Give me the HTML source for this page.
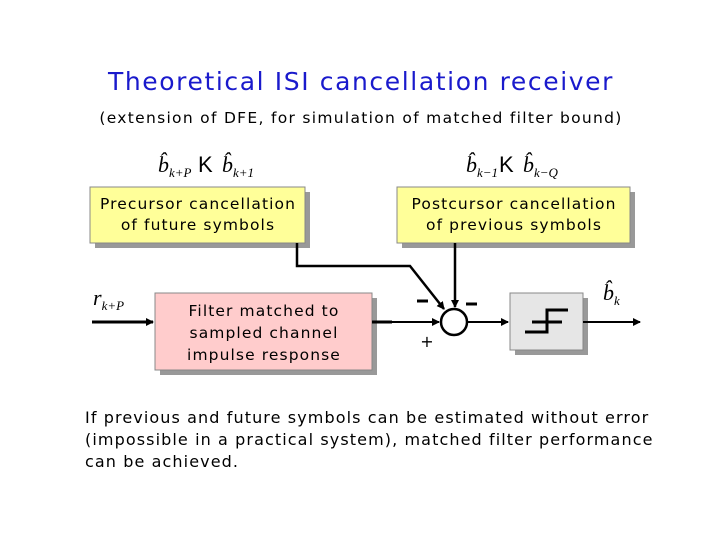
<!DOCTYPE html>
<html><head><style>
body{margin:0;width:720px;height:540px;background:#fff;overflow:hidden;font-family:"DejaVu Sans","Liberation Sans",sans-serif;}
</style></head><body>
<svg width="720" height="540" xmlns="http://www.w3.org/2000/svg">
<defs><marker id="a" markerWidth="8" markerHeight="8" refX="7" refY="4" orient="auto" markerUnits="userSpaceOnUse"><path d="M0,0 L8,4 L0,8z" fill="#000"/></marker></defs>
<text x="361" y="90" text-anchor="middle" font-family="DejaVu Sans" font-size="25" letter-spacing="1.6" fill="#1a1acc">Theoretical ISI cancellation receiver</text>
<text x="361" y="123" text-anchor="middle" font-family="DejaVu Sans" font-size="15.5" letter-spacing="1.3" fill="#000">(extension of DFE, for simulation of matched filter bound)</text>
<g font-family="Liberation Serif" font-style="italic" font-size="22">
<text x="158" y="172">b̂<tspan font-size="13" dy="5">k+P</tspan></text>
<text x="198" y="172" font-style="normal" font-family="Liberation Sans">K</text>
<text x="222" y="172">b̂<tspan font-size="13" dy="5">k+1</tspan></text>
<text x="466" y="172">b̂<tspan font-size="13" dy="5">k−1</tspan></text>
<text x="499" y="172" font-style="normal" font-family="Liberation Sans">K</text>
<text x="523" y="172">b̂<tspan font-size="13" dy="5">k−Q</tspan></text>
<text x="93" y="305">r<tspan font-size="13" dy="5">k+P</tspan></text>
<text x="603" y="300">b̂<tspan font-size="13" dy="5">k</tspan></text>
</g>
<rect x="95" y="192" width="215" height="56" fill="#999"/>
<rect x="90" y="187" width="215" height="56" fill="#ffff99" stroke="#888" stroke-width="1"/>
<text x="198" y="209" text-anchor="middle" font-size="15.5" letter-spacing="1.1">Precursor cancellation</text>
<text x="198" y="230" text-anchor="middle" font-size="15.5" letter-spacing="1.1">of future symbols</text>
<rect x="402" y="192" width="233" height="56" fill="#999"/>
<rect x="397" y="187" width="233" height="56" fill="#ffff99" stroke="#888" stroke-width="1"/>
<text x="514" y="209" text-anchor="middle" font-size="15.5" letter-spacing="1.1">Postcursor cancellation</text>
<text x="514" y="230" text-anchor="middle" font-size="15.5" letter-spacing="1.1">of previous symbols</text>
<rect x="160" y="298" width="217" height="77" fill="#999"/>
<rect x="155" y="293" width="217" height="77" fill="#ffcccc" stroke="#888" stroke-width="1"/>
<text x="264" y="316" text-anchor="middle" font-size="15.5" letter-spacing="1.1">Filter matched to</text>
<text x="264" y="338" text-anchor="middle" font-size="15.5" letter-spacing="1.1">sampled channel</text>
<text x="264" y="360" text-anchor="middle" font-size="15.5" letter-spacing="1.1">impulse response</text>
<rect x="515" y="298" width="73" height="57" fill="#999"/>
<rect x="510" y="293" width="73" height="57" fill="#e6e6e6" stroke="#888" stroke-width="1"/>
<path d="M525,332 H547 V310 H568" stroke="#000" stroke-width="3" fill="none"/>
<path d="M532,322 H562" stroke="#000" stroke-width="3"/>
<g stroke="#000" stroke-width="3" fill="none">
<line x1="92" y1="322" x2="153" y2="322" marker-end="url(#a)"/>
<line x1="372" y1="322" x2="439" y2="322" stroke-width="2" marker-end="url(#a)"/>
<line x1="372" y1="322" x2="392" y2="322"/>
<circle cx="454" cy="322" r="13" stroke-width="2.5"/>
<line x1="467" y1="322" x2="508" y2="322" stroke-width="2" marker-end="url(#a)"/>
<line x1="583" y1="322" x2="640" y2="322" stroke-width="2" marker-end="url(#a)"/>
<path d="M297,243 V266 H410 L444,309" stroke-width="2.5" marker-end="url(#a)"/>
<line x1="455" y1="243" x2="455" y2="307" stroke-width="2.5" marker-end="url(#a)"/>
<line x1="417" y1="301" x2="428" y2="301"/>
<line x1="466" y1="304" x2="477" y2="304"/>
</g>
<text x="427" y="347" text-anchor="middle" font-size="16">+</text>
<g font-size="16" letter-spacing="1.1">
<text x="85" y="423">If previous and future symbols can be estimated without error</text>
<text x="85" y="445">(impossible in a practical system), matched filter performance</text>
<text x="85" y="467">can be achieved.</text>
</g>
</svg>
</body></html>
